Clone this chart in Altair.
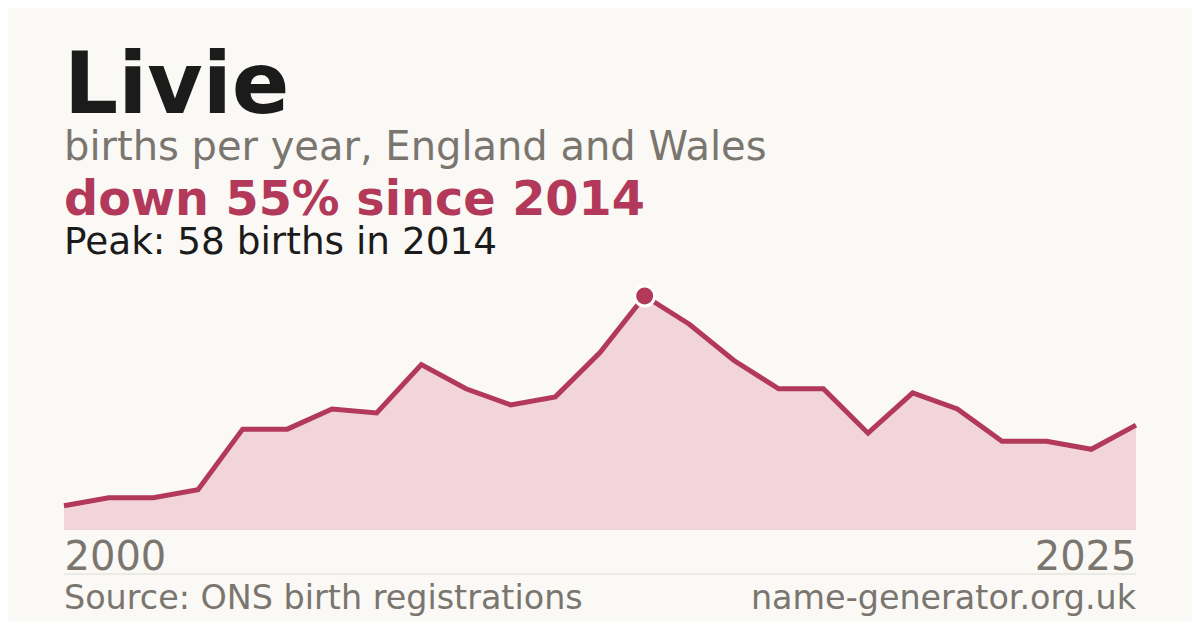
import altair as alt
import pandas as pd

# ---- data ----
years = [2001, 2002, 2003, 2004, 2005, 2006, 2007, 2008, 2009, 2010, 2011, 2012, 2013,
         2014, 2015, 2016, 2017, 2018, 2019, 2020, 2021, 2022, 2023, 2024, 2025]
births = [6, 8, 8, 10, 25, 25, 30, 29, 41, 35, 31, 33, 44,
          58, 51, 42, 35, 35, 24, 34, 30, 22, 22, 20, 26]
axis_labels = ["2000", "2025"]
peak_year = 2014
peak_value = 58

name = "Livie"
subtitle = "births per year, England and Wales"
change_text = "down 55% since 2014"
peak_text = "Peak: 58 births in 2014"
source_text = "Source: ONS birth registrations"
site_text = "name-generator.org.uk"

# ---- styles ----
BG = "#FAF9F5"
CRIMSON = "#B3395A"
FILL = "#F1D5DA"
DARK = "#1B1B1B"
GREY = "#7A766F"
FONT = "DejaVu Sans"

W, H = 1072, 234

df = pd.DataFrame({"year": years, "births": births})
peak_df = pd.DataFrame({"year": [peak_year], "births": [peak_value]})

xscale = alt.Scale(domain=[years[0], years[-1]], nice=False, zero=False)
yscale = alt.Scale(domain=[0, peak_value], nice=False, zero=True)

x_enc = alt.X(
    "year:Q",
    scale=xscale,
    axis=alt.Axis(
        title=None,
        values=[years[0], years[-1]],
        labelExpr=f"datum.value == {years[0]} ? '{axis_labels[0]}' : '{axis_labels[1]}'",
        labelFlush=True,
        grid=False,
        domain=False,
        ticks=False,
        tickSize=0,
        labelFontSize=40,
        labelFont=FONT,
        labelColor=GREY,
        labelPadding=39,
        labelBaseline="alphabetic",
    ),
)
y_enc = alt.Y("births:Q", scale=yscale, axis=None)

base = alt.Chart(df)
area = base.mark_area(color=FILL, opacity=1).encode(x=x_enc, y=y_enc)
line = base.mark_line(color=CRIMSON, strokeWidth=5).encode(x=x_enc, y=y_enc)
dot = alt.Chart(peak_df).mark_circle(
    fill=CRIMSON, stroke="#FFFFFF", strokeWidth=3, size=400, opacity=1
).encode(x=alt.X("year:Q", scale=xscale), y=alt.Y("births:Q", scale=yscale))


def label(txt, y, size, color, weight="normal", align="left", xpos=0):
    return alt.Chart(pd.DataFrame({"t": [txt]})).mark_text(
        font=FONT, fontSize=size, fontWeight=weight, color=color,
        align=align, baseline="alphabetic"
    ).encode(x=alt.value(xpos), y=alt.value(y), text="t:N")


title_t = label(name, -183, 85, DARK, "bold")
sub_t = label(subtitle, -136, 40, GREY)
change_t = label(change_text, -81, 47.7, CRIMSON, "bold")
peak_t = label(peak_text, -42, 37.4, DARK)
source_t = label(source_text, 313, 33.4, GREY)
site_t = label(site_text, 313, 33.4, GREY, align="right", xpos=W)

sep = alt.Chart(pd.DataFrame({"a": [0]})).mark_rule(color="#DEDBD4", strokeWidth=1).encode(
    x=alt.value(0), x2=alt.value(W), y=alt.value(278)
)

chart = alt.layer(
    area, line, dot, title_t, sub_t, change_t, peak_t, sep, source_t, site_t
).properties(
    width=W, height=H,
    background=BG,
    padding={"left": 56, "top": 288, "right": 56, "bottom": 92},
    autosize=alt.AutoSizeParams(type="none"),
).configure_view(stroke=None)

chart.save("out.html", embed_options={"renderer": "svg", "actions": False})
